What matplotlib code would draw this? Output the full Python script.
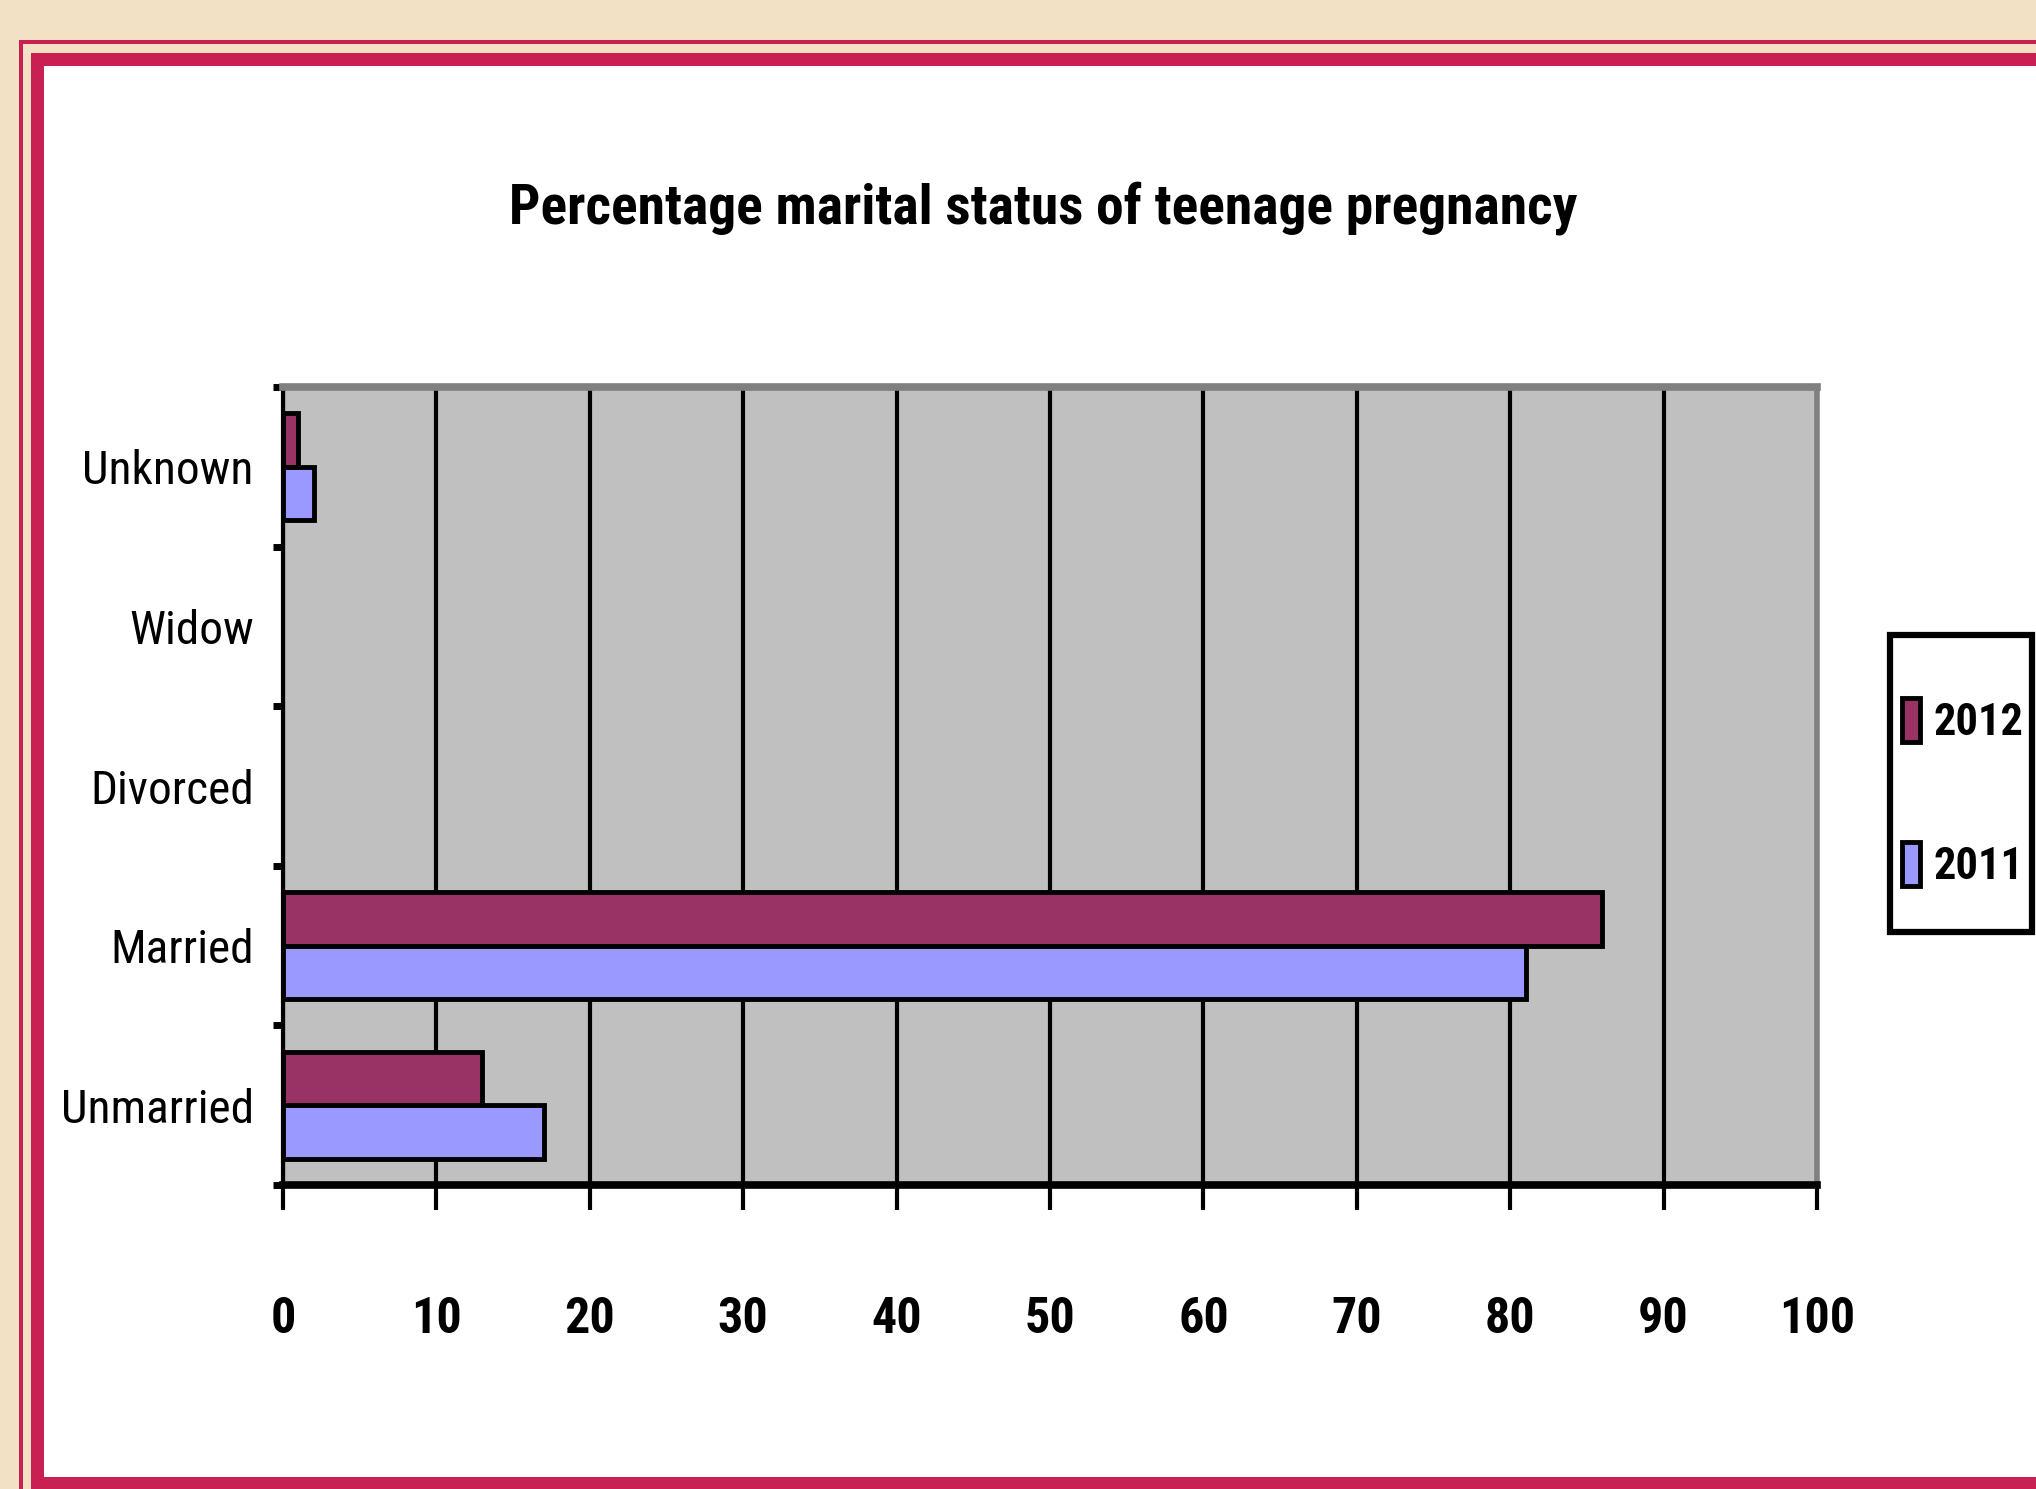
import numpy as np
import matplotlib
matplotlib.use("Agg")
import matplotlib.pyplot as plt
from matplotlib import font_manager
from matplotlib.patches import Rectangle

# data
categories = ["Unmarried", "Married", "Divorced", "Widow", "Unknown"]
pct_2012 = [13, 86, 0, 0, 1]
pct_2011 = [17, 81, 0, 0, 2]
series_labels = ["2012", "2011"]
x_ticks = [0, 10, 20, 30, 40, 50, 60, 70, 80, 90, 100]
title = "Percentage marital status of teenage pregnancy"

# pick a narrow font if one is installed
names = {f.name for f in font_manager.fontManager.ttflist}
font = "DejaVu Sans"
for cand in ["Liberation Sans Narrow", "Roboto Condensed", "DejaVu Sans Condensed",
             "Noto Sans Condensed", "Open Sans Condensed"]:
    if cand in names:
        font = cand
        break
plt.rcParams["font.family"] = [font, "DejaVu Sans"]
if font == "DejaVu Sans":
    plt.rcParams["font.stretch"] = "condensed"

W, H = 2036, 1489
CREAM = "#f2e1c4"
CRIMSON = "#c82052"


def fx(x):
    return x / W


def fy(y):
    return 1 - y / H


def box(fig, x0, y0, x1, y1, color, edge="none", lw=0, z=-10):
    fig.add_artist(Rectangle((fx(x0), fy(y1)), fx(x1) - fx(x0), fy(y0) - fy(y1),
                             transform=fig.transFigure, facecolor=color,
                             edgecolor=edge, linewidth=lw, zorder=z))


fig = plt.figure(figsize=(W / 100, H / 100), dpi=100)
fig.patch.set_facecolor(CREAM)

# page frame
box(fig, 19, 40, 2200, 1700, CRIMSON)
box(fig, 23, 44, 2200, 1700, CREAM)
box(fig, 31, 53, 2200, 1700, CRIMSON)
box(fig, 44, 66, 2200, 1477, "white")

ax = fig.add_axes([fx(283), fy(1185), fx(1817) - fx(283), fy(387) - fy(1185)])
ax.set_facecolor("#c0c0c0")

y = np.arange(len(categories))
h = 0.335
b1 = ax.barh(y + h / 2, pct_2012, height=h, color="#993366", edgecolor="black",
             linewidth=3.5, label=series_labels[0], zorder=3)
b2 = ax.barh(y - h / 2, pct_2011, height=h, color="#9999ff", edgecolor="black",
             linewidth=3.5, label=series_labels[1], zorder=3)
# empty categories draw no outline
for bars in (b1, b2):
    for p in bars.patches:
        if p.get_width() == 0:
            p.set_visible(False)

ax.set_xlim(0, 100)
ax.set_ylim(-0.5, len(categories) - 0.5)
ax.set_xticks(x_ticks)
ax.set_xticklabels([str(t) for t in x_ticks], fontsize=36, fontweight="bold")
ax.xaxis.grid(True, color="black", linewidth=3)
ax.set_axisbelow(True)

ax.set_yticks(np.arange(-0.5, len(categories), 1))
ax.set_yticklabels([])
ax.set_yticks(y, minor=True)
ax.set_yticklabels(categories, minor=True, fontsize=34)

ax.tick_params(axis="x", direction="out", length=18, width=3, pad=62)
ax.tick_params(axis="y", which="major", direction="out", length=7, width=5)
ax.tick_params(axis="y", which="minor", length=0, pad=21)

ax.spines["left"].set_color("black")
ax.spines["left"].set_linewidth(3)
ax.spines["bottom"].set_color("black")
ax.spines["bottom"].set_linewidth(5.5)
ax.spines["top"].set_color("#808080")
ax.spines["top"].set_linewidth(5.5)
ax.spines["right"].set_color("#808080")
ax.spines["right"].set_linewidth(4)

fig.text(fx(1043), fy(208), title, ha="center", va="center", fontsize=40,
         fontweight="bold")

# legend box drawn by hand, entries placed inside it
box(fig, 1890, 635, 2032, 932, "white", edge="black", lw=4.5, z=5)
leg = fig.legend(handles=[b1, b2], loc="upper left",
                 bbox_to_anchor=(fx(1902), fy(698)), frameon=False,
                 handlelength=0.4, handleheight=1.15, labelspacing=2.2,
                 borderpad=0, borderaxespad=0, handletextpad=0.3,
                 prop={"size": 32, "weight": "bold"})
leg.set_zorder(6)

fig.savefig("out.png", dpi=100, facecolor=fig.get_facecolor())
